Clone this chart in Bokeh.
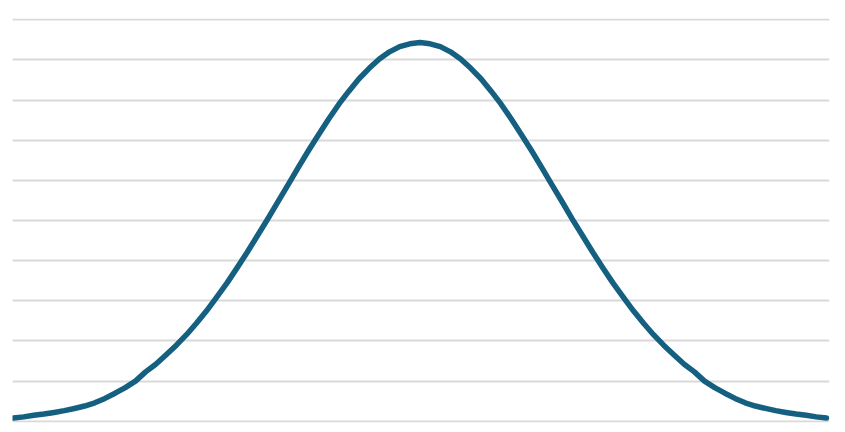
from bokeh.plotting import figure
from bokeh.models import Range1d, Grid, FixedTicker
from bokeh.embed import file_html
from bokeh.resources import INLINE

# Curve values (grid lines at 0..10), left half up to the peak
left_half = [0.08, 0.11, 0.15, 0.18, 0.22, 0.265, 0.32, 0.38, 0.46, 0.57,
             0.70, 0.84, 1.00, 1.23, 1.42, 1.65, 1.89, 2.15, 2.44, 2.75,
             3.09, 3.44, 3.82, 4.21, 4.62, 5.03, 5.46, 5.88, 6.31, 6.73,
             7.13, 7.52, 7.89, 8.22, 8.53, 8.79, 9.02, 9.20, 9.33, 9.40]
peak = [9.43]
right_half = [9.40, 9.33, 9.20, 9.02, 8.79, 8.53, 8.22, 7.89, 7.52, 7.13,
              6.73, 6.31, 5.88, 5.46, 5.03, 4.62, 4.21, 3.82, 3.44, 3.09,
              2.75, 2.44, 2.15, 1.89, 1.65, 1.42, 1.23, 1.00, 0.84, 0.70,
              0.57, 0.46, 0.38, 0.32, 0.265, 0.22, 0.18, 0.15, 0.11, 0.08]
values = left_half + peak + right_half
# Point index along the horizontal axis (no labels shown in the reference)
points = list(range(len(values)))
# Horizontal grid line positions
grid_values = [0, 1, 2, 3, 4, 5, 6, 7, 8, 9, 10]

p = figure(frame_width=817, frame_height=404, output_backend="svg",
           toolbar_location=None, x_axis_type=None, y_axis_type=None,
           x_range=Range1d(-0.098, 80.296), y_range=Range1d(-0.03, 10.03),
           min_border_left=12, min_border_right=4, min_border_top=18,
           min_border_bottom=4)
p.outline_line_color = None
p.background_fill_color = "white"
p.border_fill_color = "white"

p.add_layout(Grid(dimension=1, ticker=FixedTicker(ticks=grid_values),
                  grid_line_color="#d9d9d9", grid_line_width=2))

p.line(points, values, line_color="#155f80", line_width=5.5,
       line_join="round", line_cap="round")

open("out.html", "w").write(file_html(p, INLINE))
